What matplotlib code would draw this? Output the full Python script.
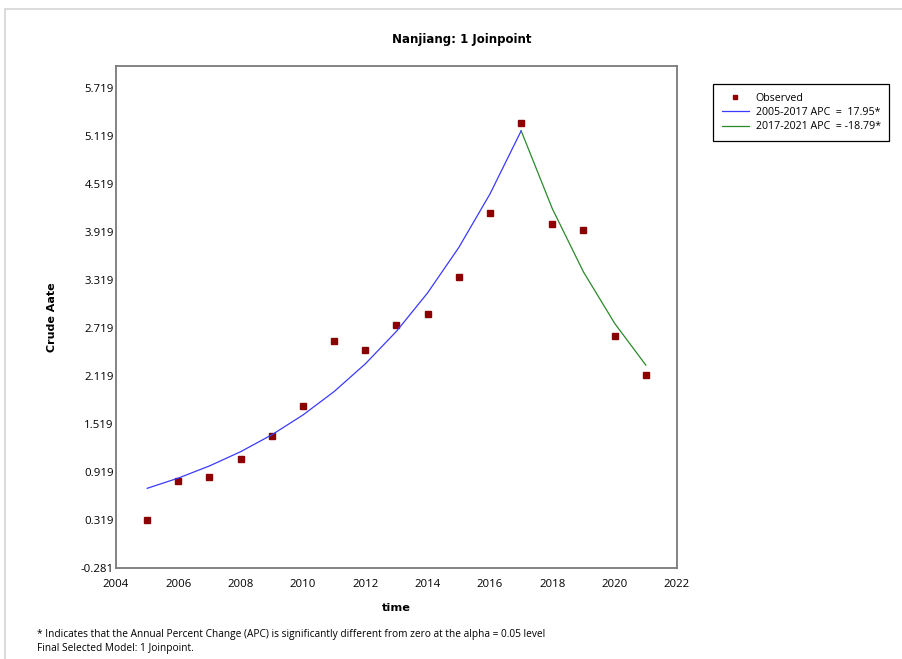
import matplotlib
matplotlib.use("Agg")
import matplotlib.pyplot as plt
from matplotlib.patches import Rectangle

years = [2005, 2006, 2007, 2008, 2009, 2010, 2011, 2012, 2013,
         2014, 2015, 2016, 2017, 2018, 2019, 2020, 2021]
observed = [0.32, 0.81, 0.86, 1.08, 1.37, 1.75, 2.56, 2.44, 2.76,
            2.90, 3.36, 4.16, 5.28, 4.02, 3.94, 2.62, 2.13]

seg1_years = years[:13]
seg1_fit = [0.715, 0.843, 0.995, 1.173, 1.384, 1.632, 1.925, 2.271,
            2.678, 3.159, 3.726, 4.395, 5.184]
seg2_years = years[12:]
seg2_fit = [5.184, 4.210, 3.419, 2.777, 2.255]

xticks = list(range(2004, 2023, 2))
yticks = [-0.281, 0.319, 0.919, 1.519, 2.119, 2.719, 3.319, 3.919, 4.519, 5.119, 5.719]

W, H = 903, 659
fig = plt.figure(figsize=(W / 100, H / 100), dpi=100)

# light outer frame of the report window
fig.patches.append(Rectangle((5 / W, -0.01), 1.0, 1 - 9 / H + 0.01, transform=fig.transFigure,
                             fill=False, edgecolor="#d4d4d4", linewidth=1.2))

ax = fig.add_axes([116 / W, 1 - 568 / H, (677 - 116) / W, (568 - 66) / H])

ax.plot(years, observed, linestyle="none", marker="s", markersize=4,
        color="#8b0000", label="Observed")
ax.plot(seg1_years, seg1_fit, color="#3a3aff", linewidth=0.9, label="2005-2017 APC  =  17.95*")
ax.plot(seg2_years, seg2_fit, color="#2a8a2a", linewidth=0.9, label="2017-2021 APC  = -18.79*")

ax.set_xlim(2004, 2022)
ax.set_ylim(-0.281, 5.994)
ax.set_xticks(xticks)
ax.set_yticks(yticks)
ax.set_yticklabels([f"{v:.3f}" for v in yticks])
ax.tick_params(length=0, labelsize=8.2)
ax.tick_params(axis="y", pad=1.5)
ax.tick_params(axis="x", pad=8)
for lab in ax.get_xticklabels() + ax.get_yticklabels():
    lab.set_family("Open Sans")
for sp in ax.spines.values():
    sp.set_color("#7a7a7a")
    sp.set_linewidth(1.3)

ax.set_xlabel("time", fontsize=8.2, fontweight="bold", labelpad=9)
ax.set_ylabel("Crude Aate", fontsize=8, fontweight="bold", labelpad=17)

fig.text(462 / W, 1 - 39 / H, "Nanjiang: 1 Joinpoint", ha="center", va="center",
         fontsize=8.5, fontweight="bold")

leg = ax.legend(loc="upper left", bbox_to_anchor=(713 / W, 1 - 84 / H),
                bbox_transform=fig.transFigure, borderaxespad=0, fancybox=False,
                framealpha=1, edgecolor="black", prop={"family": "Open Sans", "size": 7.7},
                handlelength=2.6, handletextpad=0.6, borderpad=0.8, labelspacing=0.32,
                markerscale=0.8)
leg.get_frame().set_linewidth(0.9)

fig.text(37 / W, 1 - 634 / H,
         "* Indicates that the Annual Percent Change (APC) is significantly different from zero at the alpha = 0.05 level",
         ha="left", va="center", fontsize=7.3, family="Open Sans")
fig.text(37 / W, 1 - 648 / H, "Final Selected Model: 1 Joinpoint.",
         ha="left", va="center", fontsize=7.3, family="Open Sans")

fig.savefig("out.png", dpi=100)
